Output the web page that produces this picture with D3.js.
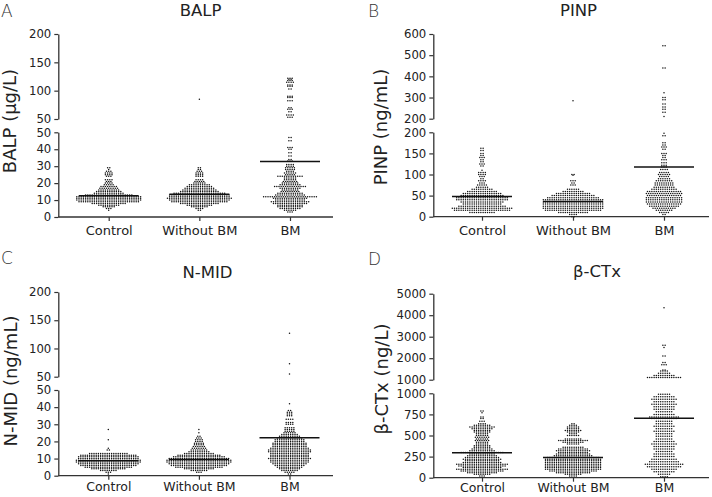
<!DOCTYPE html>
<html><head><meta charset="utf-8">
<script src="https://cdn.jsdelivr.net/npm/d3@7"></script>
<style>body{margin:0;background:#fff}</style>
</head><body>
<svg id="c" width="712" height="497"></svg>
<script>
// ---- data (rows of dots: [value, count]) ----
const categories = ["Control", "Without BM", "BM"];

const balpControl = [[29,2],[28,1],[27,3],[26,4],[25,4],[24,3],[22,4],[21,3],[20,4],[19,5],[18,8],[17,9],[16,10],[15,12],[14,14],[13,22],[12,30],[11,30],[10,30],[9,28],[8,16],[7,10],[6,6],[5,3],[4,1]];
const balpWithout = [[85,1],[29,2],[28,2],[27,3],[26,4],[25,4],[24,4],[22,4],[21,5],[20,6],[19,10],[18,12],[17,14],[16,16],[15,18],[14,24],[13,28],[12,28],[11,30],[10,28],[9,26],[8,18],[7,12],[6,8],[5,4],[4,2]];
const balpBM = [[122,3],[120,2],[118,3],[115,4],[110,3],[108,3],[103,2],[90,3],[88,3],[82,3],[70,2],[67,3],[63,2],[57,4],[53,3],
  [47,2],[45,2],[41,3],[40,2],[38,2],[36,2],[34,2],[33,3],[31,4],[30,4],[29,5],[28,5],[27,4],[26,6],[25,5],[24,12],[23,6],[22,6],[21,7],[20,8],[19,10],[18,15],[17,10],[16,8],[15,9],[14,12],[13,14],[12,25],[11,16],[10,14],[9,18],[8,16],[7,12],[6,12],[5,10],[4,6],[3,3]];
const balpMeans = [12.5, 13.5, 32.7];

const pinpControl = [[162,2],[157,2],[150,2],[145,2],[140,3],[135,2],[130,2],[125,3],[120,2],[110,1],[105,4],[100,4],[95,3],[90,2],[85,4],[80,3],[75,5],[70,6],[65,10],[60,14],[55,18],[50,20],[45,24],[40,24],[35,20],[30,18],[25,22],[20,28],[15,26],[10,12]];
const pinpWithout = [[285,1],[100,2],[98,1],[85,3],[80,2],[75,3],[65,6],[60,10],[55,16],[50,20],[45,24],[40,28],[35,28],[30,28],[25,28],[20,28],[15,26],[10,14],[5,4],[0,2]];
const pinpBM = [[545,2],[440,2],[322,1],[300,2],[290,2],[270,2],[255,2],[245,2],[230,2],[210,1],
  [198,1],[192,2],[175,2],[170,2],[165,3],[160,2],[150,3],[145,2],[140,2],[135,3],[128,3],[122,3],[118,3],[112,4],[105,5],[100,6],[95,5],[90,6],[85,8],[80,9],[75,9],[70,10],[65,12],[60,16],[55,17],[50,16],[45,17],[40,17],[35,17],[30,16],[25,14],[20,11],[15,8],[10,5],[5,2]];
const pinpMeans = [48, 36, 118];

const nmidControl = [[27,1],[21,1],[16,1],[15,2],[13,18],[12,26],[11,28],[10,28],[9,30],[8,30],[7,28],[6,26],[5,22],[4,16],[3,8],[2,3],[1,1]];
const nmidWithout = [[27,1],[25,1],[23,2],[22,3],[21,4],[20,4],[19,5],[18,5],[17,6],[16,7],[15,8],[14,10],[13,14],[12,20],[11,24],[10,28],[9,30],[8,30],[7,28],[6,26],[5,22],[4,14],[3,8],[2,3]];
const nmidBM = [[127,1],[73,1],[55,1],
  [42,1],[38,2],[37,3],[36,3],[35,3],[33,4],[31,4],[30,4],[28,5],[27,5],[26,5],[25,6],[24,8],[23,10],[22,12],[21,14],[20,14],[19,16],[18,16],[17,16],[16,18],[15,20],[14,20],[13,18],[12,18],[11,18],[10,20],[9,18],[8,18],[7,16],[6,14],[5,12],[4,10],[3,8],[2,5],[1,2]];
const nmidMeans = [8.7, 9.5, 22.2];

const ctxControl = [[790,2],[770,1],[720,2],[700,2],[670,3],[640,4],[620,8],[600,12],[580,10],[560,8],[540,8],[520,6],[500,6],[480,7],[460,6],[440,7],[420,6],[400,6],[380,8],[360,8],[340,10],[320,12],[300,20],[280,12],[260,14],[240,16],[220,18],[200,16],[180,18],[160,24],[140,22],[120,18],[100,24],[80,20],[60,14],[40,8],[20,3]];
const ctxWithout = [[640,2],[620,4],[600,6],[580,6],[560,8],[540,6],[520,4],[500,6],[460,8],[440,14],[420,10],[400,6],[360,10],[340,14],[320,16],[300,14],[280,16],[260,18],[240,24],[220,26],[200,26],[180,26],[160,26],[140,26],[120,26],[100,26],[80,22],[60,16],[40,8],[20,4]];
const ctxBM = [[4350,1],[2600,2],[2500,1],[2100,2],[1800,2],[1700,3],[1450,2],[1400,4],[1300,6],[1200,10],[1100,16],
  [990,6],[960,10],[930,12],[900,10],[870,12],[840,10],[810,10],[780,8],[750,10],[720,14],[700,12],[670,8],[640,8],[610,10],[580,8],[550,10],[520,8],[490,8],[460,8],[430,10],[400,12],[370,10],[340,10],[310,8],[280,10],[250,10],[220,12],[190,14],[160,18],[130,16],[100,12],[70,10],[40,6],[10,4]];
const ctxMeans = [295, 240, 705];

const balpTicksLow = [0,10,20,30,40,50], balpTicksHigh = [50,100,150,200];
const pinpTicksLow = [0,50,100,150,200], pinpTicksHigh = [200,300,400,500,600];
const nmidTicksLow = [0,10,20,30,40,50], nmidTicksHigh = [50,100,150,200];
const ctxTicksLow = [0,250,500,750,1000], ctxTicksHigh = [1000,2000,3000,4000,5000];

// ---- drawing ----
const svg = d3.select("#c");
const FONT = "DejaVu Sans";
const INK = "#222";

function panel(p) {
  const g = svg.append("g");
  const brk = p.ticksLow[p.ticksLow.length - 1];
  const yLow = d3.scaleLinear().domain([0, brk]).range(p.lowRange);
  const yHigh = d3.scaleLinear().domain([brk, p.ticksHigh[p.ticksHigh.length - 1]]).range(p.highRange);
  const y = v => v <= brk ? yLow(v) : yHigh(v);
  const x = d3.scalePoint().domain(categories).range(p.catRange);

  [[yLow, p.ticksLow], [yHigh, p.ticksHigh]].forEach(([s, t]) => {
    const a = g.append("g").attr("transform", `translate(${p.axisX},0)`)
      .call(d3.axisLeft(s).tickValues(t).tickSize(4).tickSizeOuter(0).tickPadding(3).tickFormat(d3.format("d")));
    a.select(".domain").attr("stroke", "#333").attr("stroke-width", 1.3);
    a.selectAll(".tick line").attr("stroke", "#333").attr("stroke-width", 1.2);
    a.selectAll("text").attr("font-family", FONT).attr("font-size", 11.7).attr("fill", INK);
  });

  const y0 = p.lowRange[0];
  g.append("line").attr("x1", p.axisX).attr("x2", p.axisEnd).attr("y1", y0).attr("y2", y0)
    .attr("stroke", "#333").attr("stroke-width", 1.3);
  const xa = g.append("g").attr("transform", `translate(0,${y0})`)
    .call(d3.axisBottom(x).tickSize(4).tickSizeOuter(0).tickPadding(p.xPad));
  xa.select(".domain").remove();
  xa.selectAll(".tick line").attr("stroke", "#333").attr("stroke-width", 1.2);
  xa.selectAll("text").attr("font-family", FONT).attr("font-size", p.xFont).attr("fill", INK);

  const sp = 2.2;
  p.groups.forEach((rows, gi) => {
    const cx = x(categories[gi]);
    const pts = [];
    rows.forEach(([v, n]) => {
      for (let i = 0; i < n; i++) pts.push({ x: cx + (i - (n - 1) / 2) * sp, y: y(v) });
    });
    g.append("g").selectAll("circle").data(pts).join("circle")
      .attr("cx", d => d.x).attr("cy", d => d.y).attr("r", 0.75).attr("fill", "#111");
  });

  p.means.forEach((m, gi) => {
    const cx = x(categories[gi]);
    g.append("line").attr("x1", cx - 30).attr("x2", cx + 30).attr("y1", yLow(m)).attr("y2", yLow(m))
      .attr("stroke", "#111").attr("stroke-width", 1.5);
  });

  g.append("text").attr("x", p.titleX).attr("y", p.titleY).attr("text-anchor", "middle")
    .attr("font-family", FONT).attr("font-size", 16.5).attr("fill", INK).text(p.title);
  g.append("text").attr("x", p.letterX).attr("y", p.letterY)
    .attr("font-family", FONT).attr("font-size", 17).attr("font-weight", 200).attr("fill", "#333").text(p.letter);
  g.append("text").attr("transform", `translate(${p.ylabX},${p.ylabY}) rotate(-90)`).attr("text-anchor", "middle")
    .attr("font-family", FONT).attr("font-size", 18).attr("fill", INK).text(p.ylabel);
}

panel({ axisX: 58.3, axisEnd: 333, catRange: [108.7, 290], lowRange: [217, 132.3], highRange: [119, 34],
  ticksLow: balpTicksLow, ticksHigh: balpTicksHigh, groups: [balpControl, balpWithout, balpBM], means: balpMeans,
  xPad: 5, xFont: 13,
  title: "BALP", titleX: 200.5, titleY: 16, letter: "A", letterX: 1, letterY: 16.5,
  ylabel: "BALP (\u03bcg/L)", ylabX: 16, ylabY: 121 });

panel({ axisX: 433.3, axisEnd: 709, catRange: [482, 664], lowRange: [216.7, 132.3], highRange: [118.7, 34],
  ticksLow: pinpTicksLow, ticksHigh: pinpTicksHigh, groups: [pinpControl, pinpWithout, pinpBM], means: pinpMeans,
  xPad: 5, xFont: 13,
  title: "PINP", titleX: 578.5, titleY: 16, letter: "B", letterX: 368, letterY: 16.5,
  ylabel: "PINP (ng/mL)", ylabX: 387, ylabY: 127 });

panel({ axisX: 58.3, axisEnd: 333, catRange: [108.3, 289.5], lowRange: [475.7, 390], highRange: [376.7, 292],
  ticksLow: nmidTicksLow, ticksHigh: nmidTicksHigh, groups: [nmidControl, nmidWithout, nmidBM], means: nmidMeans,
  xPad: 2.5, xFont: 12.5,
  title: "N-MID", titleX: 207.5, titleY: 278, letter: "C", letterX: 1, letterY: 264,
  ylabel: "N-MID (ng/mL)", ylabX: 16.7, ylabY: 381 });

panel({ axisX: 433.3, axisEnd: 709, catRange: [482, 664], lowRange: [477.7, 393.3], highRange: [379.7, 293.7],
  ticksLow: ctxTicksLow, ticksHigh: ctxTicksHigh, groups: [ctxControl, ctxWithout, ctxBM], means: ctxMeans,
  xPad: 1, xFont: 12.5,
  title: "\u03b2-CTx", titleX: 597, titleY: 277, letter: "D", letterX: 368, letterY: 265,
  ylabel: "\u03b2-CTx (ng/L)", ylabX: 388, ylabY: 379 });
</script>
</body></html>
